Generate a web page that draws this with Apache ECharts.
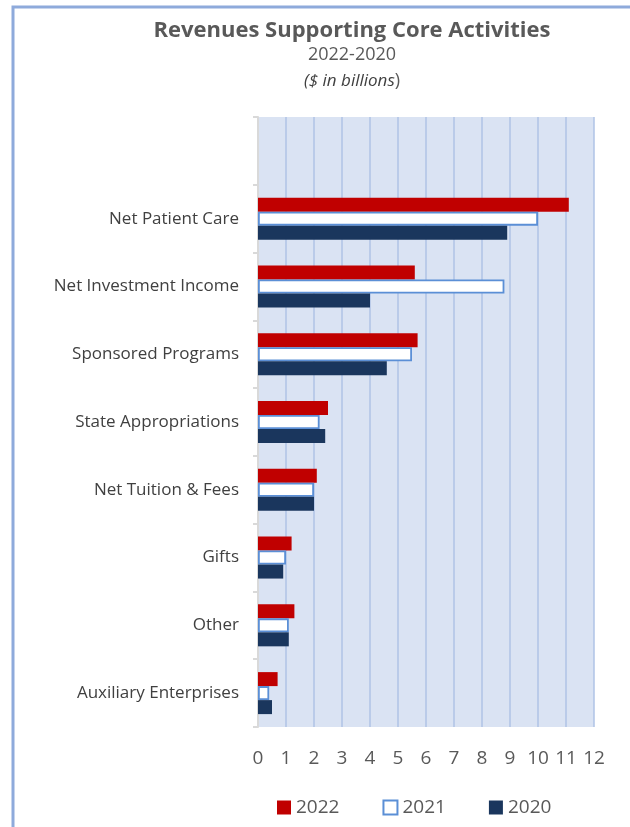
<!DOCTYPE html>
<html><head><meta charset="utf-8">
<script src="https://cdn.jsdelivr.net/npm/echarts@6/dist/echarts.min.js"></script>
<style>html,body{margin:0;padding:0;background:#fff}#c{width:630px;height:827px}</style>
</head><body><div id="c"></div>
<script>
const categories = ['', 'Net Patient Care', 'Net Investment Income', 'Sponsored Programs', 'State Appropriations', 'Net Tuition & Fees', 'Gifts', 'Other', 'Auxiliary Enterprises'];
const values2022 = [null, 11.1, 5.6, 5.7, 2.5, 2.1, 1.2, 1.3, 0.7];
const values2021 = [null, 10.0, 8.8, 5.5, 2.2, 2.0, 1.0, 1.1, 0.4];
const values2020 = [null, 8.9, 4.0, 4.6, 2.4, 2.0, 0.9, 1.1, 0.5];
const xTicks = [0,1,2,3,4,5,6,7,8,9,10,11,12];

const FONT = 'Open Sans';
const chart = echarts.init(document.getElementById('c'));
chart.setOption({
  animation: false,
  graphic: [{
    type: 'rect', shape: {x: 13, y: 7, width: 640, height: 840},
    style: {fill: 'none', stroke: '#8eaadb', lineWidth: 3}, z: -10
  }],
  title: {
    text: 'Revenues Supporting Core Activities',
    subtext: '{n|2022-2020}\n{i|($ in billions}{n|)}',
    left: 347, textAlign: 'center', top: 15,
    textStyle: {fontFamily: FONT, fontSize: 22, fontWeight: 'bold', color: '#595959'},
    subtextStyle: {
      lineHeight: 26,
      rich: {
        n: {fontFamily: FONT, fontSize: 18, color: '#595959', lineHeight: 26},
        i: {fontFamily: FONT, fontSize: 17, fontStyle: 'italic', color: '#404040', lineHeight: 26}
      }
    },
    itemGap: 0
  },
  legend: {
    bottom: 5, left: 272,
    itemWidth: 14, itemHeight: 14, itemGap: 43,
    icon: 'rect',
    textStyle: {fontFamily: FONT, fontSize: 19, color: '#595959'},
    data: ['2022', '2021', '2020']
  },
  grid: {
    left: 258, right: 36, top: 117, bottom: 100,
    show: true, backgroundColor: '#dae3f3', borderWidth: 0
  },
  xAxis: {
    type: 'value', min: 0, max: 12, interval: 1,
    axisLine: {show: false}, axisTick: {show: false},
    splitLine: {show: true, lineStyle: {color: '#afc3e6', width: 1.5}},
    axisLabel: {fontFamily: FONT, fontSize: 19, color: '#595959', margin: 22,
      formatter: v => String(xTicks[v] ?? v)}
  },
  yAxis: {
    type: 'category', data: categories, inverse: true,
    axisLine: {show: true, lineStyle: {color: '#d9d9d9', width: 2}},
    axisTick: {show: true, length: 5, lineStyle: {color: '#d9d9d9', width: 2}},
    axisLabel: {fontFamily: FONT, fontSize: 17, color: '#404040', margin: 19}
  },
  series: [
    {name: '2022', type: 'bar', data: values2022, barWidth: 14, barGap: '0%',
      itemStyle: {color: '#c00000'}},
    {name: '2021', type: 'bar', data: values2021, barWidth: 14, barGap: '0%',
      itemStyle: {color: '#ffffff', borderColor: '#5b8fd6', borderWidth: 1.8}},
    {name: '2020', type: 'bar', data: values2020, barWidth: 14, barGap: '0%',
      itemStyle: {color: '#1a365d'}}
  ]
});
</script></body></html>
